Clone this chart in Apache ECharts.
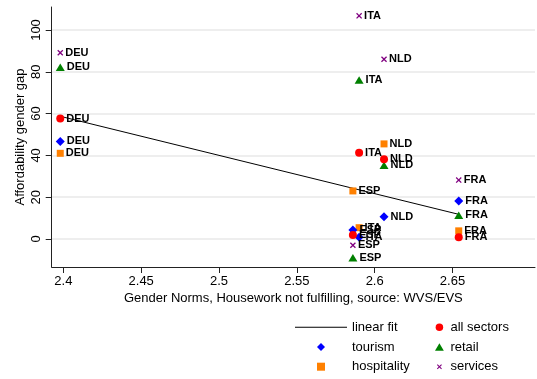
<!DOCTYPE html>
<html>
<head>
<meta charset="utf-8">
<script src="https://cdn.jsdelivr.net/npm/echarts@6/dist/echarts.min.js"></script>
<style>
html,body{margin:0;padding:0;background:#fff;}
#chart{width:537px;height:379px;}
</style>
</head>
<body>
<div id="chart"></div>
<script>
// ---- data ----
const countries   = ['DEU', 'ITA', 'ESP', 'NLD', 'FRA'];
const genderNorms = [2.398, 2.590, 2.586, 2.606, 2.654];
const allSectors  = [57.6, 41.3, 1.9, 38.1, 0.8];
const tourism     = [46.7, 0.8, 4.3, 10.7, 18.2];
const retail      = [82.2, 76.1, -9.0, 35.3, 11.4];
const hospitality = [41.0, 5.4, 23.0, 45.5, 3.9];
const services    = [89.1, 106.8, -3.0, 86.0, 28.2];
const fitX = [2.398, 2.654];
const fitY = [58.7, 11.8];
const xTicks = [2.4, 2.45, 2.5, 2.55, 2.6, 2.65];
const yTicks = [0, 20, 40, 60, 80, 100];

const FONT = "'Liberation Sans', Arial, Helvetica, sans-serif";
const xSymbol = 'path://M0,1.5 L1.5,0 L5,3.5 L8.5,0 L10,1.5 L6.5,5 L10,8.5 L8.5,10 L5,6.5 L1.5,10 L0,8.5 L3.5,5 Z';
const xSymbolSmall = 'path://M-2.5,-2.5 L-2.45,-2.5 L-2.5,-2.45 Z M12.5,12.5 L12.45,12.5 L12.5,12.45 Z M0,1.5 L1.5,0 L5,3.5 L8.5,0 L10,1.5 L6.5,5 L10,8.5 L8.5,10 L5,6.5 L1.5,10 L0,8.5 L3.5,5 Z';
const diamondPath = 'path://M5,0 L10,5 L5,10 L0,5 Z';
const squarePath = 'path://M0,0 L10,0 L10,10 L0,10 Z';
const linePath = 'path://M0,0 L52,0 L52,1 L0,1 Z';

function pts(vals) {
  return countries.map((c, i) => ({ name: c, value: [genderNorms[i], vals[i]] }));
}
const labelStyle = {
  show: true, position: 'right', distance: 2,
  formatter: p => p.name,
  color: '#000', fontFamily: FONT, fontWeight: 'bold', fontSize: 11
};
function sc(name, vals, color, symbol, size) {
  return {
    name, type: 'scatter', data: pts(vals), symbol, symbolSize: size,
    itemStyle: { color, opacity: 1 }, label: labelStyle,
    emphasis: { disabled: true }, z: 3
  };
}
const legendText = { color: '#000', fontSize: 13, lineHeight: 14, fontFamily: FONT };

const chart = echarts.init(document.getElementById('chart'), null, { renderer: 'canvas' });
chart.setOption({
  animation: false,
  backgroundColor: '#fff',
  textStyle: { fontFamily: FONT },
  grid: { left: 51.7, top: 7, right: 2, bottom: 112, outerBoundsMode: 'none' },
  xAxis: {
    type: 'value', min: 2.3925, max: 2.703,
    name: 'Gender Norms, Housework not fulfilling, source: WVS/EVS',
    nameLocation: 'middle', nameGap: 25, nameMoveOverlap: false,
    nameTextStyle: { color: '#000', fontSize: 13, fontFamily: FONT },
    axisLine: { show: true, onZero: false, lineStyle: { color: '#222', width: 1 } },
    axisTick: { show: true, length: 6, customValues: xTicks, lineStyle: { color: '#222' } },
    axisLabel: { customValues: xTicks, color: '#000', fontSize: 13, margin: 8,
      formatter: v => String(+(+v).toFixed(2)) },
    splitLine: { show: false }
  },
  yAxis: {
    type: 'value', min: -13.4, max: 111,
    name: 'Affordability gender gap',
    nameLocation: 'middle', nameGap: 25, nameRotate: 90, nameMoveOverlap: false,
    nameTextStyle: { color: '#000', fontSize: 13, fontFamily: FONT },
    axisLine: { show: true, onZero: false, lineStyle: { color: '#222', width: 1 } },
    axisTick: { show: true, length: 6, customValues: yTicks, lineStyle: { color: '#222' } },
    axisLabel: { customValues: yTicks, color: '#000', fontSize: 13, rotate: 90, margin: 9 },
    splitLine: { show: true, lineStyle: { color: '#e8e8e8', width: 1.5 } }
  },
  legend: [
    {
      orient: 'vertical', left: 295, top: 320.3, padding: 0,
      itemWidth: 52, itemHeight: 8, itemGap: 5.7, symbolKeepAspect: true,
      textStyle: legendText, selectedMode: false,
      data: [
        { name: 'linear fit', icon: linePath },
        { name: 'tourism', icon: diamondPath },
        { name: 'hospitality', icon: squarePath }
      ]
    },
    {
      orient: 'vertical', left: 435, top: 320.3, padding: 0,
      itemWidth: 12, itemHeight: 7.5, itemGap: 5.7, symbolKeepAspect: true,
      textStyle: legendText, selectedMode: false,
      data: [
        { name: 'all sectors', icon: 'path://M5,0 A5,5 0 1 1 4.99,0 Z' },
        { name: 'retail', icon: 'path://M5,0 L10,8.5 L0,8.5 Z' },
        { name: 'services', icon: xSymbolSmall }
      ]
    }
  ],
  series: [
    {
      name: 'linear fit', type: 'line', data: fitX.map((x, i) => [x, fitY[i]]),
      symbol: 'none', lineStyle: { color: '#000', width: 1 }, itemStyle: { color: '#000' },
      emphasis: { disabled: true }, z: 2
    },
    sc('services', services, '#800080', xSymbol, 6),
    sc('retail', retail, '#008000', 'triangle', [9, 7.5]),
    sc('hospitality', hospitality, '#ff8000', 'rect', 7),
    sc('tourism', tourism, '#0000ff', 'diamond', [9, 9]),
    sc('all sectors', allSectors, '#ff0000', 'circle', 8)
  ]
});
</script>
</body>
</html>
